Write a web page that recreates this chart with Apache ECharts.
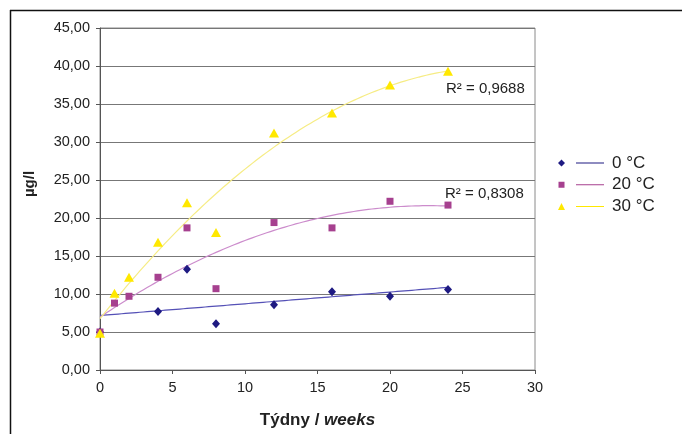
<!DOCTYPE html>
<html><head><meta charset="utf-8">
<script src="https://cdn.jsdelivr.net/npm/echarts@6/dist/echarts.min.js"></script>
<style>html,body{margin:0;padding:0;background:#fff}#c{width:682px;height:434px}</style>
</head><body><div id="c"></div>
<script>
// Data
const seriesNames = ['0 °C', '20 °C', '30 °C'];
const weeks0 = [0, 4, 6, 8, 12, 16, 20, 24];
const values0 = [5.0, 7.7, 13.25, 6.1, 8.6, 10.3, 9.7, 10.6];
const weeks20 = [0, 1, 2, 4, 6, 8, 12, 16, 20, 24];
const values20 = [5.0, 8.8, 9.7, 12.2, 18.7, 10.7, 19.4, 18.7, 22.2, 21.7];
const weeks30 = [0, 1, 2, 4, 6, 8, 12, 16, 20, 24];
const values30 = [4.85, 10.1, 12.2, 16.8, 22.0, 18.1, 31.2, 33.8, 37.5, 39.3];
const trendOrders = [1, 2, 2];   // linear for 0 °C, polynomial (2nd order) for 20/30 °C
const r2Labels = ['R² = 0,9688', 'R² = 0,8308'];

const markerColors = ['#1e1a82', '#a6408f', '#ffe800'];
const lineColors = ['#5450b6', '#cc8ccc', '#f6ec84'];

// least-squares polynomial trend of given order
function polyFit(xs, ys, n) {
  const m = n + 1;
  const A = [];
  for (let r = 0; r < m; r++) {
    A.push([]);
    for (let c = 0; c < m; c++) A[r].push(xs.reduce((s, x) => s + Math.pow(x, r + c), 0));
    A[r].push(xs.reduce((s, x, i) => s + Math.pow(x, r) * ys[i], 0));
  }
  for (let i = 0; i < m; i++)
    for (let j = i + 1; j < m; j++) {
      const f = A[j][i] / A[i][i];
      for (let k = i; k <= m; k++) A[j][k] -= f * A[i][k];
    }
  const c = new Array(m).fill(0);
  for (let i = m - 1; i >= 0; i--) {
    let s = A[i][m];
    for (let k = i + 1; k < m; k++) s -= A[i][k] * c[k];
    c[i] = s / A[i][i];
  }
  return c;
}
function trend(xs, ys, n) {
  const c = polyFit(xs, ys, n);
  const xmax = Math.max(...xs), out = [];
  for (let x = 0; x <= xmax + 1e-9; x += 0.25)
    out.push([x, c.reduce((s, ci, k) => s + ci * Math.pow(x, k), 0)]);
  return out;
}
const pairs = (xs, ys) => xs.map((x, i) => [x, ys[i]]);

const icons = [
  'path://M3.5,0 L7,3.5 L3.5,7 L0,3.5 Z M18,3 L46,3 L46,4 L18,4 Z',
  'path://M0.5,0.5 L6.5,0.5 L6.5,6.5 L0.5,6.5 Z M18,3 L46,3 L46,4 L18,4 Z M0,0 L0.01,0 L0,0.01 Z M46,7 L45.99,7 L46,6.99 Z',
  'path://M3.5,0 L7,7 L0,7 Z M18,3 L46,3 L46,4 L18,4 Z'
];

const chart = echarts.init(document.getElementById('c'));
const FONT = 'Liberation Sans, Arial, sans-serif';
const series = [];
const xsAll = [weeks0, weeks20, weeks30], ysAll = [values0, values20, values30];
xsAll.forEach((xs, i) => series.push({
  name: 'trend' + i, type: 'line', data: trend(xs, ysAll[i], trendOrders[i]), showSymbol: false, symbol: 'none',
  lineStyle: { color: lineColors[i], width: 1.2 }, silent: true, z: 2
}));
const sym = ['diamond', 'rect', 'triangle'];
const symSize = [[8, 9], 7, [10, 9]];
xsAll.forEach((xs, i) => series.push({
  name: seriesNames[i], type: 'scatter', data: pairs(xs, ysAll[i]), symbol: sym[i], symbolSize: symSize[i],
  itemStyle: { color: markerColors[i], opacity: 1 }, z: 3 + i
}));

chart.setOption({
  animation: false,
  textStyle: { fontFamily: FONT },
  grid: { left: 100, top: 28, right: 147, bottom: 61.5, show: true, borderColor: '#8a8a8a', borderWidth: 1 },
  xAxis: {
    type: 'value', min: 0, max: 30, interval: 5,
    axisLine: { show: true, onZero: false, lineStyle: { color: '#555', width: 1 } },
    axisTick: { show: true, length: 4, lineStyle: { color: '#555' } },
    splitLine: { show: false },
    axisLabel: { color: '#222', fontSize: 14.5, margin: 10, fontFamily: FONT },
    name: '{a|Týdny / }{b|weeks}', nameLocation: 'middle', nameGap: 42,
    nameTextStyle: { rich: {
      a: { fontSize: 17, fontWeight: 'bold', color: '#222', fontFamily: FONT },
      b: { fontSize: 17, fontWeight: 'bold', fontStyle: 'italic', color: '#222', fontFamily: FONT }
    } }
  },
  yAxis: {
    type: 'value', min: 0, max: 45, interval: 5,
    axisLine: { show: true, lineStyle: { color: '#555', width: 1 } },
    axisTick: { show: true, length: 4, lineStyle: { color: '#555' } },
    splitLine: { show: true, lineStyle: { color: '#777', width: 1.2 } },
    axisLabel: { color: '#222', fontSize: 14.5, margin: 10, fontFamily: FONT,
      formatter: v => v.toFixed(2).replace('.', ',') }
  },
  legend: {
    orient: 'vertical', left: 558, top: 154, itemGap: 3.8, padding: 0,
    itemWidth: 46, itemHeight: 7,
    textStyle: { fontSize: 17, lineHeight: 18, color: '#222', fontFamily: FONT, padding: [0, 0, 0, 3] },
    data: seriesNames.map((n, i) => ({ name: n, icon: icons[i], itemStyle: { color: markerColors[i] } })),
    selectedMode: false
  },
  graphic: [
    { type: 'line', shape: { x1: 10, y1: 10.5, x2: 682, y2: 10.5 }, style: { stroke: '#111', lineWidth: 1.5 } },
    { type: 'line', shape: { x1: 10.5, y1: 10, x2: 10.5, y2: 434 }, style: { stroke: '#111', lineWidth: 1.5 } },
    { type: 'text', x: 30, y: 184, rotation: Math.PI / 2,
      style: { text: 'µg/l', font: 'bold 15px ' + FONT, fill: '#222', align: 'center', verticalAlign: 'middle' } },
    { type: 'text', left: 446, top: 81, style: { text: r2Labels[0], font: '15px ' + FONT, fill: '#222' } },
    { type: 'text', left: 445, top: 186, style: { text: r2Labels[1], font: '15px ' + FONT, fill: '#222' } }
  ],
  series
});
</script></body></html>
